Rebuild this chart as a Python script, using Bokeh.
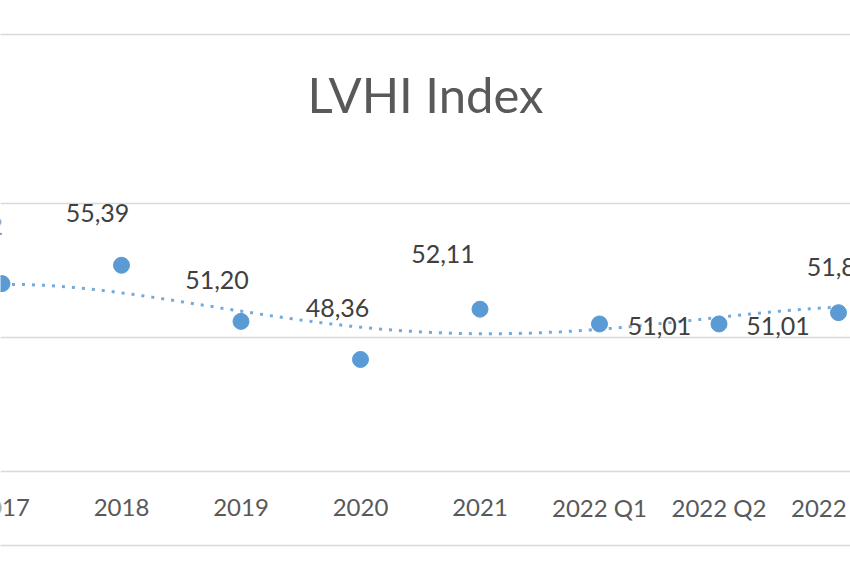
import numpy as np
from bokeh.plotting import figure
from bokeh.models import (ColumnDataSource, Range1d, LinearAxis, FixedTicker,
                          Label, LabelSet, Grid)
from bokeh.core.properties import value
from bokeh.embed import file_html
from bokeh.resources import INLINE

# ---- data -------------------------------------------------------------
categories = ["2017", "2018", "2019", "2020", "2021", "2022 Q1", "2022 Q2", "2022 Q3"]
lvhi = [54.02, 55.39, 51.20, 48.36, 52.11, 51.01, 51.01, 51.85]
# polynomial trendline at each category
trend_read = [53.96, 53.30, 52.00, 50.75, 50.32, 50.55, 51.55, 52.25]
grid_values = [40, 50, 60]
axis_base = 40
title_text = "LVHI Index"

# ---- styles / label placement -------------------------------------------
label_dx = [-31, -24, -24, -23, -37, 60, 59, 0]
label_dy = [58, 52, 41, 51, 55, -2, -2, 46]
FONT = "Lato"
BLUE = "#5b9bd5"
GRID = "#d9d9d9"
TICK_COLOR = "#595959"

xpos = list(range(len(categories)))
labels = [f"{v:.2f}".replace(".", ",") for v in lvhi]

p = figure(width=850, height=565, output_backend="svg", toolbar_location=None,
           x_range=Range1d(-0.01255, 7.1004), y_range=Range1d(34.478, 72.61),
           y_axis_location=None, min_border_left=0, min_border_right=0,
           min_border_top=34, min_border_bottom=20,
           background_fill_color="white", border_fill_color="white")
p.outline_line_color = None
p.xgrid.visible = False
for g in p.ygrid:
    g.visible = False
p.add_layout(Grid(dimension=1, ticker=FixedTicker(ticks=grid_values),
                  grid_line_color=GRID, grid_line_width=1.5))

# bottom axis: only its line is shown (chart border); categories drawn below
xa = p.xaxis[0]
xa.ticker = FixedTicker(ticks=[])
xa.major_tick_out = 0
xa.major_tick_in = 0
xa.minor_tick_out = 0
xa.minor_tick_in = 0
xa.axis_line_color = GRID
xa.axis_line_width = 1.5
xa.major_label_text_font_size = "0px"

top_border = LinearAxis(ticker=FixedTicker(ticks=[]), axis_line_color=GRID,
                        axis_line_width=1.5, major_tick_out=0, major_tick_in=0,
                        minor_tick_out=0, minor_tick_in=0,
                        major_label_text_font_size="0px")
p.add_layout(top_border, "above")

# category labels under the base line
cat_src = ColumnDataSource(dict(x=xpos, y=[axis_base] * len(xpos), text=categories))
p.add_layout(LabelSet(x="x", y="y", text="text", source=cat_src, y_offset=-36,
                      text_align="center", text_baseline="middle",
                      text_font=value(FONT), text_font_size=value("24px"),
                      text_color=TICK_COLOR))

# polynomial trendline through the read trend values
coef = np.polyfit(xpos, trend_read, 4)
xs = np.linspace(xpos[0], xpos[-1], 200)
p.line(xs, np.polyval(coef, xs), line_color=BLUE, line_width=3,
       line_dash="3 7", line_alpha=0.85)

src = ColumnDataSource(dict(x=xpos, y=lvhi, text=labels, dx=label_dx, dy=label_dy))
p.scatter("x", "y", source=src, size=16, fill_color=BLUE, line_color=BLUE)
p.add_layout(LabelSet(x="x", y="y", text="text", x_offset="dx", y_offset="dy",
                      source=src, text_align="center", text_baseline="middle",
                      text_font=value(FONT), text_font_size=value("25px"),
                      text_color="#404040"))

p.add_layout(Label(x=(p.x_range.start + p.x_range.end) / 2, y=68.2, text=title_text,
                   text_align="center", text_baseline="middle",
                   text_font=FONT, text_font_size="49px", text_color="#595959"))

open("out.html", "w").write(file_html(p, INLINE))
